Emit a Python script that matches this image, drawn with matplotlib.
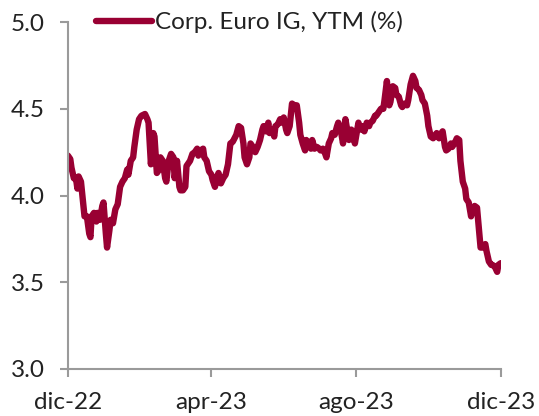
import numpy as np
import pandas as pd
import matplotlib
matplotlib.use("Agg")
import matplotlib.pyplot as plt
import matplotlib.dates as mdates

plt.rcParams["font.family"] = ["Lato", "DejaVu Sans"]

# ── Data ─────────────────────────────────────────────────────────────────────────
START_DATE = "2022-12-01"
SERIES_LABEL = "Corp. Euro IG, YTM (%)"

# days since START_DATE
DAY_OFFSETS = [
    0, 2, 3, 5, 7, 8, 9, 11, 13, 14, 16, 18, 19, 20, 22, 24, 25, 27, 29, 30,
    32, 33, 35, 36, 38, 40, 42, 44, 46, 48, 50, 51, 53, 55, 56, 58, 60, 62, 65, 67,
    68, 70, 72, 73, 75, 77, 78, 80, 82, 83, 85, 87, 89, 90, 92, 94, 95, 97, 99, 100,
    103, 105, 107, 109, 110, 112, 114, 115, 117, 119, 121, 122, 124, 126, 127, 129, 131, 133, 135, 137,
    139, 142, 144, 146, 148, 149, 151, 153, 154, 156, 158, 160, 162, 164, 165, 167, 169, 170, 172, 174,
    175, 177, 179, 180, 182, 184, 185, 187, 189, 191, 193, 195, 196, 198, 200, 201, 203, 205, 206, 208,
    210, 212, 213, 215, 217, 218, 220, 222, 223, 225, 227, 228, 230, 232, 234, 235, 237, 239, 240, 242,
    244, 245, 247, 249, 250, 252, 254, 255, 257, 259, 260, 262, 264, 266, 267, 269, 271, 272, 274, 276,
    277, 279, 281, 282, 284, 286, 287, 289, 291, 293, 294, 296, 298, 299, 301, 303, 304, 306, 308, 309,
    311, 313, 314, 316, 318, 319, 321, 323, 324, 326, 328, 330, 331, 333, 335, 336, 338, 340, 341, 343,
    345, 347, 348, 350, 352, 353, 355, 357, 358, 360, 362, 363, 365,
]

YTM = [
    4.23, 4.21, 4.16, 4.10, 4.09, 4.04, 4.11, 4.08, 3.95, 3.88, 3.88, 3.78, 3.76, 3.88, 3.90, 3.85, 3.90, 3.86, 3.94, 3.96,
    3.78, 3.70, 3.80, 3.86, 3.84, 3.92, 3.95, 4.05, 4.08, 4.10, 4.15, 4.12, 4.20, 4.22, 4.28, 4.38, 4.44, 4.46, 4.47, 4.44,
    4.42, 4.18, 4.36, 4.34, 4.13, 4.15, 4.22, 4.20, 4.10, 4.08, 4.20, 4.24, 4.22, 4.10, 4.20, 4.05, 4.03, 4.03, 4.05, 4.17,
    4.20, 4.24, 4.25, 4.27, 4.23, 4.26, 4.27, 4.22, 4.20, 4.14, 4.12, 4.09, 4.05, 4.11, 4.13, 4.07, 4.10, 4.12, 4.18, 4.30,
    4.31, 4.35, 4.40, 4.39, 4.30, 4.22, 4.18, 4.22, 4.30, 4.28, 4.25, 4.28, 4.32, 4.38, 4.40, 4.37, 4.42, 4.36, 4.38, 4.34,
    4.40, 4.41, 4.44, 4.42, 4.45, 4.38, 4.36, 4.40, 4.53, 4.52, 4.52, 4.42, 4.35, 4.30, 4.26, 4.32, 4.30, 4.27, 4.32, 4.27,
    4.28, 4.27, 4.26, 4.27, 4.24, 4.22, 4.30, 4.33, 4.36, 4.35, 4.40, 4.42, 4.38, 4.30, 4.44, 4.40, 4.32, 4.38, 4.36, 4.30,
    4.38, 4.42, 4.38, 4.40, 4.37, 4.42, 4.40, 4.42, 4.43, 4.46, 4.46, 4.48, 4.50, 4.50, 4.55, 4.66, 4.52, 4.54, 4.63, 4.62,
    4.58, 4.57, 4.52, 4.51, 4.53, 4.52, 4.55, 4.64, 4.69, 4.66, 4.62, 4.61, 4.58, 4.55, 4.53, 4.46, 4.40, 4.34, 4.33, 4.34,
    4.36, 4.33, 4.35, 4.37, 4.28, 4.26, 4.27, 4.30, 4.28, 4.30, 4.33, 4.32, 4.20, 4.08, 4.04, 3.98, 3.96, 3.88, 3.92, 3.94,
    3.93, 3.78, 3.70, 3.70, 3.72, 3.68, 3.62, 3.60, 3.60, 3.59, 3.56, 3.60, 3.61,
]

TICK_DATES = ["2022-12-01", "2023-04-01", "2023-08-01", "2023-12-01"]
TICK_LABELS = ["dic-22", "apr-23", "ago-23", "dic-23"]
Y_TICKS = [3.0, 3.5, 4.0, 4.5, 5.0]

LINE_COLOR = "#990033"
AXIS_COLOR = "#9a9a9a"
TEXT_COLOR = "#222222"

dates = pd.Timestamp(START_DATE) + pd.to_timedelta(DAY_OFFSETS, unit="D")

# ── Plot ─────────────────────────────────────────────────────────────────────────
fig = plt.figure(figsize=(5.39, 4.16), dpi=100)
ax = fig.add_axes([0.126, 0.113, 0.803, 0.834])

ax.plot(dates, YTM, color=LINE_COLOR, linewidth=4.6, solid_joinstyle="round",
        solid_capstyle="round", label=SERIES_LABEL)

ax.set_xlim(pd.Timestamp(TICK_DATES[0]), pd.Timestamp(TICK_DATES[-1]))
ax.set_ylim(Y_TICKS[0], Y_TICKS[-1])
ax.set_xticks([pd.Timestamp(d) for d in TICK_DATES])
ax.set_xticklabels(TICK_LABELS)
ax.set_yticks(Y_TICKS)
ax.set_yticklabels([f"{v:.1f}" for v in Y_TICKS])

for side in ["top", "right"]:
    ax.spines[side].set_visible(False)
for side in ["left", "bottom"]:
    ax.spines[side].set_color(AXIS_COLOR)
    ax.spines[side].set_linewidth(1.5)

ax.tick_params(axis="both", direction="out", length=5.5, width=1.5, color=AXIS_COLOR,
               labelsize=17.5, labelcolor=TEXT_COLOR)
ax.tick_params(axis="x", pad=11)
ax.tick_params(axis="y", pad=11)

leg = ax.legend(loc="center left", bbox_to_anchor=(0.065, 1.0), frameon=False,
                fontsize=17.5, handlelength=2.3, handletextpad=0.12, borderaxespad=0,
                borderpad=0)
for t in leg.get_texts():
    t.set_color(TEXT_COLOR)

fig.savefig("out.png", dpi=100)
